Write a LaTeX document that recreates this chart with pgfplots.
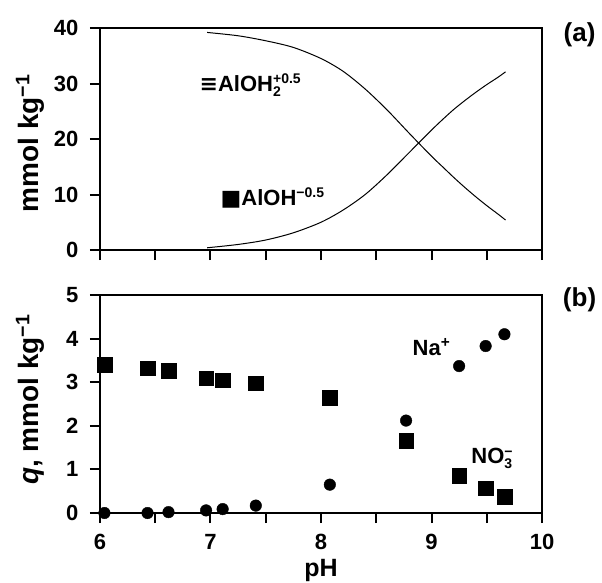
\documentclass[border=0pt]{standalone}
\usepackage{pgfplots}
\pgfplotsset{compat=1.18}
\usepackage{fontspec}
\setmainfont{Liberation Sans}
\newfontfamily\sym{DejaVu Sans}
\newcommand\smtxt[1]{\mbox{\fontsize{14}{14}\selectfont\bfseries #1}}
\begin{document}
\begin{tikzpicture}
\useasboundingbox (-100pt,-69pt) rectangle (502pt,513pt);
\pgfplotsset{
  every axis/.append style={
    scale only axis, width=442pt,
    xmin=6, xmax=10,
    axis line style={line width=2.2pt},
    tick style={line width=2pt, black},
    tick align=outside, major tick length=10pt,
    xtick pos=bottom, ytick pos=left,
    xtick={6,6.5,...,10},
    /pgf/number format/assume math mode=true,
    tick label style={font=\fontsize{22}{24}\selectfont\bfseries},
    yticklabel style={xshift=-8pt},
    xticklabel style={yshift=-8pt},
    label style={font=\fontsize{28}{30}\selectfont\bfseries},
    clip=false,
  }
}
% top panel
\begin{axis}[at={(0,263pt)}, height=222pt,
  ymin=0, ymax=40, ytick={0,10,20,30,40},
  xticklabels={},
  ylabel={mmol kg\textsuperscript{−1}},
  ylabel style={at={(axis description cs:-0.158,0.48)}, anchor=center},
]
\addplot[black, line width=1pt, smooth] coordinates {
(6.97,39.2)(7.25,38.6)(7.5,37.7)(7.75,36.5)(8.0,34.5)(8.2,32.2)(8.4,29.0)(8.6,25.2)(8.8,21.0)(9.0,16.9)(9.1,15.0)(9.2,13.1)(9.3,11.3)(9.4,9.6)(9.5,8.0)(9.6,6.5)(9.67,5.4)};
\addplot[black, line width=1pt, smooth] coordinates {
(6.97,0.4)(7.25,1.0)(7.5,1.8)(7.75,3.1)(8.0,5.0)(8.2,7.2)(8.4,10.0)(8.6,13.6)(8.8,17.6)(9.0,21.6)(9.1,23.5)(9.2,25.3)(9.3,26.9)(9.4,28.4)(9.5,29.8)(9.6,31.1)(9.67,32.1)};
\node[anchor=west, font=\fontsize{22}{24}\selectfont\bfseries, inner sep=0pt] at (axis cs:6.9,29.7) {{\sym ≡}AlOH$_{\smtxt{2}}^{\smtxt{+0.5}}$};
\node[anchor=west, font=\fontsize{22}{24}\selectfont\bfseries, inner sep=0pt] at (axis cs:7.09,9.4) {{\sym ■}AlOH$^{\smtxt{−0.5}}$};
\node[font=\fontsize{26}{28}\selectfont\bfseries] at (axis cs:10.34,38.7) {(a)};
\end{axis}
% bottom panel
\begin{axis}[at={(0,0)}, height=218pt,
  ymin=0, ymax=5, ytick={0,1,2,3,4,5},
  xticklabels={6,,7,,8,,9,,10},
  xlabel={pH},
  xlabel style={at={(axis description cs:0.5,0)}, anchor=center, yshift=-57pt, font=\fontsize{25}{27}\selectfont\bfseries},
  ylabel={\textit{q}, mmol kg\textsuperscript{−1}},
  ylabel style={at={(axis description cs:-0.158,0.52)}, anchor=center},
]
\addplot[only marks, mark=square*, mark size=7.3pt, black] coordinates {
(6.04,3.40)(6.43,3.32)(6.62,3.27)(6.96,3.09)(7.11,3.05)(7.41,2.98)(8.08,2.65)(8.77,1.66)(9.25,0.85)(9.49,0.57)(9.66,0.37)};
\addplot[only marks, mark=*, mark size=5.8pt, black] coordinates {
(6.04,0.0)(6.43,0.0)(6.62,0.02)(6.96,0.06)(7.11,0.09)(7.41,0.17)(8.08,0.65)(8.77,2.12)(9.25,3.37)(9.49,3.83)(9.66,4.10)};
\node[font=\fontsize{22}{24}\selectfont\bfseries] at (axis cs:9.0,3.81) {Na\textsuperscript{+}};
\node[font=\fontsize{22}{24}\selectfont\bfseries] at (axis cs:9.55,1.25) {NO$_{\smtxt{3}}^{\smtxt{−}}$};
\node[font=\fontsize{26}{28}\selectfont\bfseries] at (axis cs:10.34,4.89) {(b)};
\end{axis}
\end{tikzpicture}
\end{document}
